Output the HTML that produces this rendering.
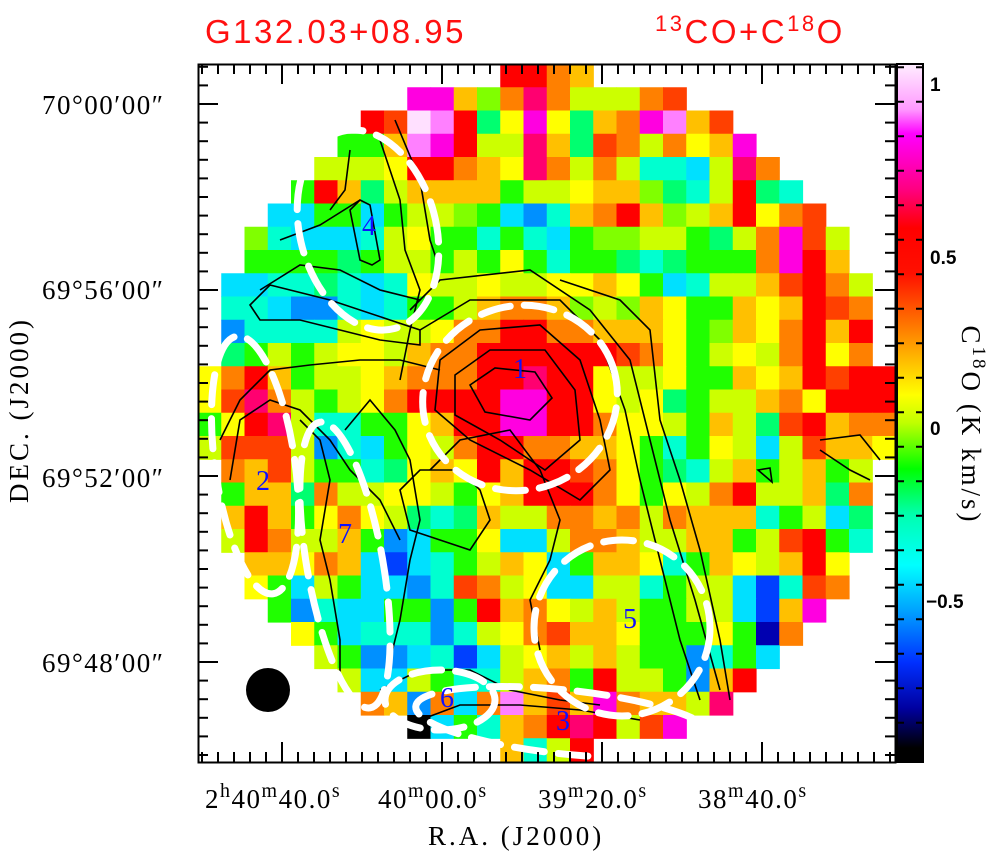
<!DOCTYPE html>
<html><head><meta charset="utf-8"><style>
html,body{margin:0;padding:0;background:#fff;}
svg{display:block;}
.ax{font-family:"Liberation Serif",serif;font-size:27px;fill:#000;letter-spacing:1.5px;}
.cb{font-family:"Liberation Sans",sans-serif;font-size:19px;font-weight:bold;fill:#000;}
.num{font-family:"Liberation Serif",serif;font-size:28px;fill:#1010ff;}
.tt{font-family:"Liberation Sans",sans-serif;font-size:33px;fill:#ff1010;letter-spacing:2.5px;}
</style></head><body>
<svg id="s" width="1003" height="853" viewBox="0 0 1003 853" xmlns="http://www.w3.org/2000/svg">
<defs>
<linearGradient id="cbg" x1="0" y1="0" x2="0" y2="1">
<stop offset="0" stop-color="#ffeeff"/><stop offset="0.065" stop-color="#ff99ff"/>
<stop offset="0.1" stop-color="#ff00ff"/><stop offset="0.18" stop-color="#ff0080"/>
<stop offset="0.235" stop-color="#ff0000"/><stop offset="0.3" stop-color="#ff1000"/>
<stop offset="0.381" stop-color="#ff8000"/><stop offset="0.474" stop-color="#ffff00"/>
<stop offset="0.514" stop-color="#c0ff00"/><stop offset="0.58" stop-color="#00ff00"/>
<stop offset="0.646" stop-color="#00ffb0"/><stop offset="0.718" stop-color="#00ffff"/>
<stop offset="0.784" stop-color="#00a0ff"/><stop offset="0.857" stop-color="#0030ff"/>
<stop offset="0.923" stop-color="#0000a0"/><stop offset="0.98" stop-color="#000000"/>
</linearGradient>
</defs>
<g id="cells"></g>
<g id="cont" fill="none" stroke="#000" stroke-width="1.6">
<path d="M470,385 L495,368 L535,372 L552,398 L530,420 L485,412 Z"/>
<path d="M455,375 L490,350 L545,350 L575,390 L580,440 L545,470 L500,440 L455,415 Z"/>
<path d="M440,360 L480,330 L540,325 L580,360 L600,420 L610,470 L580,500 L530,470 L470,440 L435,410 Z"/>
<path d="M420,330 L470,300 L560,300 L600,340 L625,410 L640,480 L660,560 L680,640 L700,700"/>
<path d="M410,310 L440,280 L530,270 L590,310 L630,360 L650,440 L670,520 L695,600 L720,690"/>
<path d="M560,280 L620,300 L650,330 L660,420 L680,480 L700,550 L720,640 L730,700"/>
<path d="M380,140 L400,200 L405,250 L420,290 L410,330 L400,380"/>
<path d="M395,120 L420,180 L430,240 L440,270"/>
<path d="M350,150 L345,190 L330,210"/>
<path d="M280,240 L320,225 L360,200"/>
<path d="M260,290 L300,265 L340,270 L380,290 L420,300"/>
<path d="M360,200 L370,205 L380,260 L372,265 L360,260 L350,210 Z"/>
<path d="M250,305 L270,285 L330,300 L390,320 L420,330 L420,345 L380,340 L340,330 L300,320 L260,320 Z"/>
<path d="M220,440 L240,400 L270,370 L310,365 L360,360 L400,360 L440,370"/>
<path d="M230,480 L240,420 L270,400 L300,410 L330,440 L350,470 L380,500 L400,540"/>
<path d="M300,420 L320,440 L330,480 L320,540 L330,580 L340,640 L340,680"/>
<path d="M345,430 L370,400 L395,430 L410,460 L420,520 L410,560 L400,620 L390,660"/>
<path d="M400,490 L420,470 L460,470 L480,490 L490,520 L470,550 L440,540 L410,530 Z"/>
<path d="M430,470 L460,440 L510,430 L540,470 L560,520 L550,560 L530,600 L540,650"/>
<path d="M380,690 L420,670 L470,670 L510,690 L560,700 L600,705"/>
<path d="M420,720 L460,705 L520,705 L580,710 L640,720"/>
<path d="M820,440 L860,435 L880,460"/>
<path d="M820,450 L850,470 L870,480"/>
<path d="M758,470 L770,468 L772,482 Z"/>
</g>
<g fill="none" stroke="#fff" stroke-width="7" stroke-dasharray="30 14" stroke-linecap="round">
<ellipse cx="520" cy="398" rx="98" ry="92" transform="rotate(-20 520 398)"/>
<ellipse cx="368" cy="230" rx="68" ry="102" transform="rotate(-15 368 230)"/>
<ellipse cx="255" cy="465" rx="40" ry="130" transform="rotate(-8 255 465)"/>
<ellipse cx="345" cy="565" rx="38" ry="145" transform="rotate(-10 345 565)"/>
<ellipse cx="622" cy="628" rx="88" ry="88"/>
<ellipse cx="440" cy="700" rx="55" ry="30"/>
<ellipse cx="565" cy="722" rx="150" ry="32" transform="rotate(6 565 722)"/>
</g>
<circle cx="268" cy="690" r="22" fill="#000"/>
<text class="num" x="513" y="378">1</text>
<text class="num" x="256" y="490">2</text>
<text class="num" x="556" y="730">3</text>
<text class="num" x="362" y="235">4</text>
<text class="num" x="623" y="628">5</text>
<text class="num" x="440" y="707">6</text>
<text class="num" x="338" y="543">7</text>
<rect x="198.5" y="64.5" width="697" height="698" fill="none" stroke="#000" stroke-width="2"/>
<g id="ticks" stroke="#000" stroke-width="2"></g>
<rect x="897" y="64" width="26" height="698" fill="url(#cbg)" stroke="#000" stroke-width="2"/>
<g id="cbt" stroke="#000" stroke-width="2"></g>
<text class="cb" x="930" y="91">1</text>
<text class="cb" x="930" y="264">0.5</text>
<text class="cb" x="930" y="435">0</text>
<text class="cb" x="926" y="608">−0.5</text>
<text class="ax" transform="translate(962,425) rotate(90)" text-anchor="middle" style="letter-spacing:3px">C<tspan dy="-11" font-size="19">18</tspan><tspan dy="11">O (K km/s)</tspan></text>
<text class="ax" transform="translate(28,410) rotate(-90)" text-anchor="middle" style="letter-spacing:3px">DEC. (J2000)</text>
<text class="ax" x="42" y="114">70°00′00″</text>
<text class="ax" x="42" y="299">69°56′00″</text>
<text class="ax" x="42" y="487">69°52′00″</text>
<text class="ax" x="42" y="672">69°48′00″</text>
<text class="ax" x="205" y="808">2<tspan dy="-11" font-size="20">h</tspan><tspan dy="11">40</tspan><tspan dy="-11" font-size="20">m</tspan><tspan dy="11">40.0</tspan><tspan dy="-11" font-size="20">s</tspan></text>
<text class="ax" x="378" y="808">40<tspan dy="-11" font-size="20">m</tspan><tspan dy="11">00.0</tspan><tspan dy="-11" font-size="20">s</tspan></text>
<text class="ax" x="538" y="808">39<tspan dy="-11" font-size="20">m</tspan><tspan dy="11">20.0</tspan><tspan dy="-11" font-size="20">s</tspan></text>
<text class="ax" x="698" y="808">38<tspan dy="-11" font-size="20">m</tspan><tspan dy="11">40.0</tspan><tspan dy="-11" font-size="20">s</tspan></text>
<text class="ax" x="428" y="845" style="letter-spacing:3px">R.A. (J2000)</text>
<text class="tt" x="205" y="43">G132.03+08.95</text>
<text class="tt" x="655" y="43"><tspan dy="-12" font-size="22">13</tspan><tspan dy="12">CO+C</tspan><tspan dy="-12" font-size="22">18</tspan><tspan dy="12">O</tspan></text>
</svg>
<script>
var rows=[
".............RROA.............",
".........MMAHOrOLLLOQ.........",
".......RQpPRgYMYgAOMPAQ.......",
"......GGAPMRLLrAgQOLOYAM......",
".....LLLYRROAYrOLOLTTCLrO.....",
"....GRAgLAAAAGLLYAAHgTLRgT....",
"...CCGGCGLLHGCBTAORAHLARYOQ...",
"..HTCCCTLYGGTGTCGHHLLGgLOMQL..",
"..GGGGgGLLGLGYGTGGgTgGGGOMRA..",
".CCTTgTCTYLLYLLYYAYGCTLLAQROL.",
".TTCBBTCTGGLAOOAHLHAYGGAYARQO.",
".BTTTTLYLLYOORROOAAAYGHAYORAR.",
".gGLGLYYLAOORRRRRRQOYGLYLORYO.",
"YORAGLLYAOOORRrRRYLLYGGAYARQRR",
"YQrOLGLYORRRRMMRRYLYgGLLAOYRRR",
"GYRrLTTGGYARRMMRROYYLGALgQRAOO",
"LQQQLBTCGYLORROOAAYGTGYLCLQAAY",
".OAQLGGTgYAYRARRQOYGgTLAGLAGL.",
".GAAgOLLYYLGYARRROYGYLORLLAgO.",
".ARAGYOYLgTgALLOOAOLOAAATGLCg.",
".LROLLAGBCGGYCCLOOALLAAGLQRGT.",
"..AAYOACDCTGLAYCGAAYTGAYLARY..",
"..YGCLGCCBTQOLYCCLLTGLLCDTQO..",
"...GBTCCGGBGRAOYLALGGLLCDAM...",
"....YGCTTTBTLYOQAAYGGGYGNO....",
".....LGBBCTDCLYALALGGBTGC.....",
"......LCCLGTTLAOGRLLGBAR......",
".......OABOCOPAQAMOAALr.......",
".........KCGTAORrRLQM.........",
".............ATLR............."];
var pal={R:"#ff0000",Q:"#ff4000",O:"#ff8000",A:"#ffc000",Y:"#ffff00",L:"#ccff00",H:"#80ff00",G:"#20ff00",g:"#00ff70",T:"#00ffd0",C:"#00e0ff",B:"#0090ff",D:"#0040ff",N:"#0000b0",M:"#ff00e0",r:"#ff0070",P:"#ff80ff",p:"#ffe0ff",K:"#000000"};
var ns="http://www.w3.org/2000/svg",c=23.25,x0=198,y0=64;
var g=document.getElementById("cells");
rows.forEach(function(r,j){for(var i=0;i<30;i++){var k=r[i];if(!k||k==".")continue;var e=document.createElementNS(ns,"rect");
e.setAttribute("x",(x0+i*c).toFixed(2));e.setAttribute("y",(y0+j*c).toFixed(2));e.setAttribute("width",(c+0.6).toFixed(2));e.setAttribute("height",(c+0.6).toFixed(2));e.setAttribute("fill",pal[k]||"#fff");g.appendChild(e);}});
var t=document.getElementById("ticks"),s="";
function L(a,b,cc,d){s+='<line x1="'+a+'" y1="'+b+'" x2="'+cc+'" y2="'+d+'"/>';}
for(var x=202;x<895;x+=16){var m=((x-282)%160===0);var h=m?20:10;L(x,64,x,64+h);L(x,762,x,762-h);}
for(var y=104-18.6*2;y<762;y+=18.6){if(y<65)continue;var m2=Math.abs(((y-104)/18.6)%10)<0.05;var h2=m2?20:10;L(198,y,198+h2,y);L(895,y,895-h2,y);}
t.innerHTML=s;
var cb=document.getElementById("cbt");s="";
for(var v=-0.95;v<=1.05;v+=0.1){var yy=429.5-v*345;var mm=Math.abs(Math.round(v*2)-v*2)<0.01;L(897,yy,897+(mm?14:7),yy);L(923,yy,923-(mm?14:7),yy);}
cb.innerHTML=s;
</script>
</body></html>
